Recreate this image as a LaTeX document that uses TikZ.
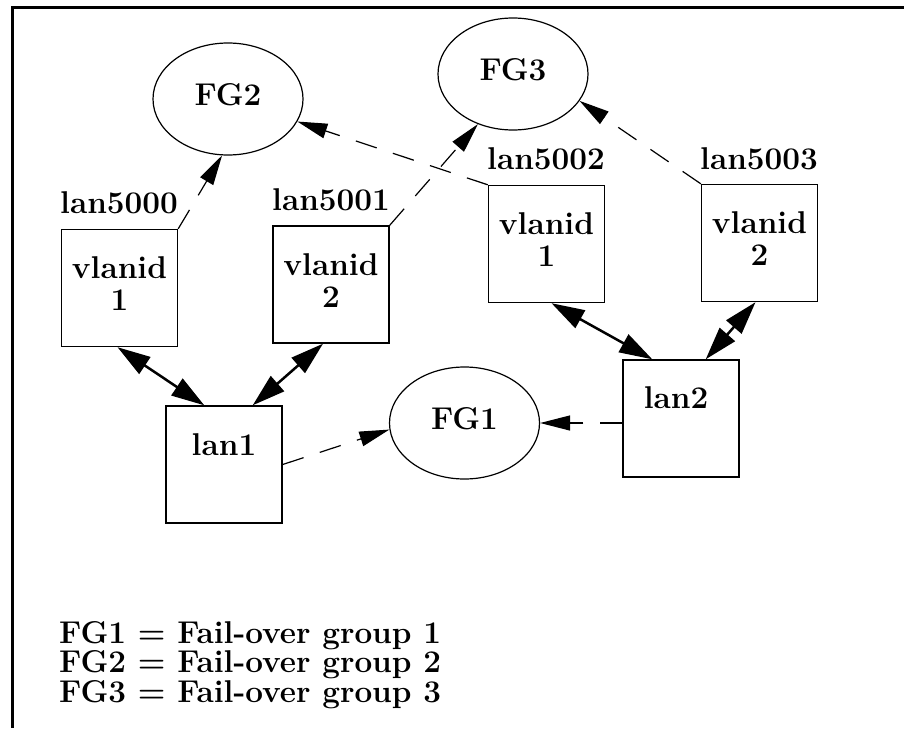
\documentclass[tikz,border=0pt]{standalone}
\usetikzlibrary{arrows.meta,calc,shapes.geometric}
\tikzset{
  fnt/.style={font=\bfseries\fontsize{31.5}{34}\selectfont},
  box/.style={draw,line width=1.4pt,rectangle,minimum width=116pt,minimum height=117pt,inner sep=0pt},
  fg/.style={draw,line width=1.2pt,ellipse,minimum width=150pt,minimum height=112pt,inner sep=0pt,fnt,text height=22pt,text depth=10pt},
  txt/.style={fnt,anchor=base,inner sep=0pt},
  lbl/.style={fnt,anchor=base west,inner sep=0pt},
  dasharrow/.style={line width=1.2pt,dash pattern=on 22pt off 17pt,-{Triangle[length=30pt,width=15pt]}},
  dblarrow/.style={line width=2.5pt,{Triangle[length=33pt,width=20pt]}-{Triangle[length=33pt,width=20pt]}},
  frame/.style={line width=3pt}
}
\begin{document}
\begin{tikzpicture}[x=1pt,y=-1pt]
\useasboundingbox (0,0) rectangle (904,728);
% frame (top and left edges only)
\coordinate (fa) at (904,7);
\coordinate (fb) at (12.5,7);
\coordinate (fc) at (12.5,728);
\draw[frame] (fa) -- (fb) -- (fc);

% ellipses
\node[fg] (FG2) at (228,99) {FG2};
\node[fg] (FG3) at (513,74) {FG3};
\node[fg] (FG1) at (464.5,423) {FG1};

% boxes
\node[box] (v1L) at (119.5,288) {};
\node[box] (v2L) at (331,284.5) {};
\node[box] (v1R) at (546.5,244) {};
\node[box] (v2R) at (759.5,243) {};
\node[box] (lan1) at (224,464.5) {};
\node[box] (lan2) at (681,418.5) {};

% box texts
\node[txt] (t1a) at ($(v1L.north)+(0,50)$) {vlanid};
\node[txt] (t1b) at ($(v1L.north)+(0,82)$) {1};
\node[txt] (t2a) at ($(v2L.north)+(0,50)$) {vlanid};
\node[txt] (t2b) at ($(v2L.north)+(0,82)$) {2};
\node[txt] (t3a) at ($(v1R.north)+(0,50)$) {vlanid};
\node[txt] (t3b) at ($(v1R.north)+(0,82)$) {1};
\node[txt] (t4a) at ($(v2R.north)+(0,50)$) {vlanid};
\node[txt] (t4b) at ($(v2R.north)+(0,82)$) {2};
\node[txt] (t5) at ($(lan1.north)+(0,50)$) {lan1};
\node[txt] (t6) at ($(lan2.north)+(-5,49)$) {lan2};

% interface labels
\node[lbl] (l5000) at (60,213) {lan5000};
\node[lbl] (l5001) at (272,210) {lan5001};
\node[lbl] (l5002) at (487,169) {lan5002};
\node[lbl] (l5003) at (700,169) {lan5003};

% dashed arrows
\draw[dasharrow] (v1L.north east) -- (FG2.-96);
\draw[dasharrow] (v2L.north east) -- (FG3.-125);
\draw[dasharrow] (v1R.north west) -- (FG2.-18);
\draw[dasharrow] (v2R.north west) -- (FG3.-22);
\draw[dasharrow] (lan1.east) -- (FG1.-175);
\draw[dasharrow] (lan2.west |- FG1.east) -- (FG1.east);

% solid double arrows
\draw[dblarrow] ([xshift=-2pt]v1L.south) -- ([xshift=39pt]lan1.north west);
\draw[dblarrow] ([xshift=-8pt]v2L.south) -- ([xshift=-30pt]lan1.north east);
\draw[dblarrow] ([xshift=5pt]v1R.south) -- ([xshift=30pt]lan2.north west);
\draw[dblarrow] ([xshift=-4pt]v2R.south) -- ([xshift=-34pt]lan2.north east);

% legend
\node[lbl] (leg1) at (59,643) {FG1 = Fail-over group 1};
\node[lbl] (leg2) at (59,672.5) {FG2 = Fail-over group 2};
\node[lbl] (leg3) at (59,702) {FG3 = Fail-over group 3};
\end{tikzpicture}
\end{document}
